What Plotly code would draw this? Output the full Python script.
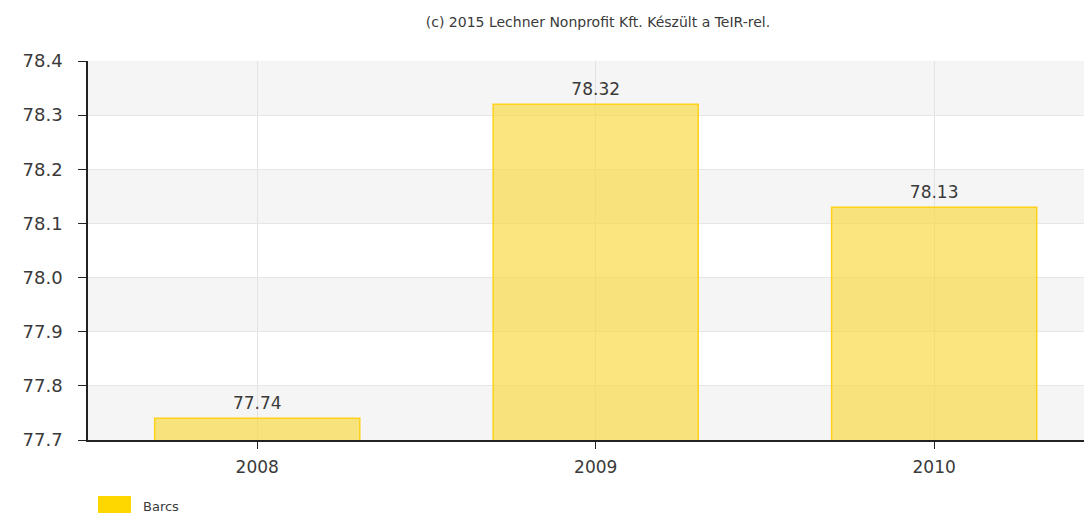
import plotly.graph_objects as go

years = ["2008", "2009", "2010"]
values = [77.74, 78.32, 78.13]
series_name = "Barcs"
y_ticks = [77.7, 77.8, 77.9, 78.0, 78.1, 78.2, 78.3, 78.4]
credit = "(c) 2015 Lechner Nonprofit Kft. Készült a TeIR-rel."

FONT = "DejaVu Sans, Verdana, sans-serif"
TXT = "#3a3a3a"

fig = go.Figure()

fig.add_trace(go.Bar(
    x=years, y=values,
    width=0.606,
    marker=dict(color="rgba(247,216,60,0.66)", line=dict(color="#ffd21a", width=1.5)),
    showlegend=False,
))
# value labels above the bars
fig.add_trace(go.Scatter(
    x=years, y=values, mode="markers+text",
    marker=dict(size=6, opacity=0),
    text=[f"{v:.2f}" for v in values],
    textposition="top center",
    textfont=dict(family=FONT, size=17, color=TXT),
    showlegend=False, cliponaxis=False, hoverinfo="skip",
))

# alternating bands
shapes = []
for i in range(len(y_ticks) - 1):
    if i % 2 == 0:
        shapes.append(dict(type="rect", xref="paper", yref="y", layer="below",
                           x0=0, x1=1, y0=y_ticks[i], y1=y_ticks[i + 1],
                           fillcolor="#f5f5f5", line=dict(width=0)))

# legend swatch drawn by hand (figure sits 8px in from the page edge)
W, H = 1092, 514
ML, MR, MT, MB = 80, 0, 53, 82
pw, ph = W - ML - MR, H - MT - MB


def px(x):
    return (x - ML) / pw


def py(y):
    return 1 - (y - MT) / ph


shapes.append(dict(type="rect", xref="paper", yref="paper",
                   x0=px(90), x1=px(123), y0=py(505), y1=py(488),
                   fillcolor="#ffd700", line=dict(width=0)))

fig.update_layout(
    width=W, height=H,
    margin=dict(l=ML, r=MR, t=MT, b=MB),
    paper_bgcolor="white", plot_bgcolor="white",
    font=dict(family=FONT, color=TXT),
    title=dict(text=credit, x=590 / W, xanchor="center", y=1 - 14 / H, yanchor="middle",
               font=dict(family=FONT, size=14, color=TXT)),
    shapes=shapes,
    showlegend=False,
    annotations=[dict(text=series_name, xref="paper", yref="paper",
                      x=px(133), y=py(498), xanchor="left", yanchor="middle",
                      showarrow=False, font=dict(family=FONT, size=13, color=TXT))],
)

fig.update_xaxes(
    range=[-0.5, 2.49], type="category",
    showgrid=True, gridcolor="#e3e3e3", gridwidth=1,
    showline=True, linecolor="#222222", linewidth=1.5,
    ticks="outside", ticklen=7, tickcolor="#222222",
    ticklabelstandoff=4,
    tickfont=dict(family=FONT, size=17, color=TXT),
)
fig.update_yaxes(
    range=[77.7, 78.4], tickvals=y_ticks,
    ticktext=[f"{v:.1f}" for v in y_ticks],
    showgrid=True, gridcolor="#e6e6e6", gridwidth=1,
    showline=True, linecolor="#222222", linewidth=1.5,
    ticks="outside", ticklen=8, tickcolor="#222222",
    ticklabelstandoff=12,
    tickfont=dict(family=FONT, size=18, color=TXT),
    zeroline=False,
)

fig.write_html("out.html")
